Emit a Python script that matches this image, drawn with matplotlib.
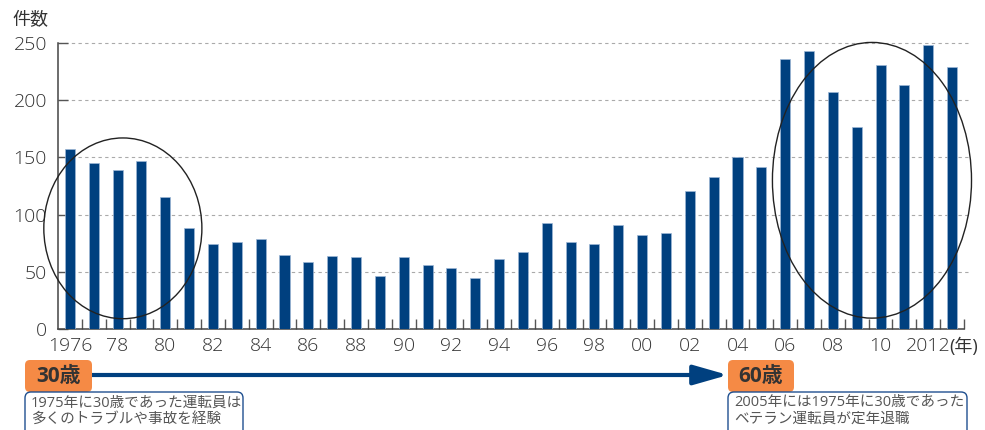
import numpy as np
from matplotlib import pyplot as plt
from matplotlib.patches import Ellipse, FancyBboxPatch, FancyArrowPatch

plt.rcParams['font.family'] = ['Open Sans', 'Noto Sans CJK JP', 'DejaVu Sans']

years = list(range(1976, 2014))
counts = [157, 145, 139, 147, 115, 88, 74, 76, 79, 65,
          59, 64, 63, 46, 63, 56, 53, 45, 61, 67,
          93, 76, 74, 91, 82, 84, 121, 133, 150, 142,
          236, 243, 207, 177, 231, 213, 248, 229]
label_years = list(range(1976, 2013, 2))
label_text = ['1976', '78', '80', '82', '84', '86', '88', '90', '92', '94',
              '96', '98', '00', '02', '04', '06', '08', '10', '2012']
y_ticks = [0, 50, 100, 150, 200, 250]

bar_color = '#00407f'
text_color = '#333333'
orange = '#f58a45'

W, H = 985, 430
fig = plt.figure(figsize=(W / 100, H / 100), dpi=100, facecolor='white')
ax = fig.add_axes([58 / W, 1 - 329 / H, (964 - 58) / W, (329 - 43) / H])

ax.bar(years, counts, width=0.42, color=bar_color, edgecolor='#9db6d6', linewidth=0.5, zorder=3)

ax.set_xlim(years[0] - 0.5, years[-1] + 0.5)
ax.set_ylim(0, 250)
ax.set_yticks(y_ticks)
ax.set_xticks(label_years)
ax.set_xticklabels(label_text, fontweight='light')
ax.set_yticklabels([str(v) for v in y_ticks], fontweight='light')
ax.set_xticks(np.arange(years[0] + 0.5, years[-1] + 1, 1), minor=True)

ax.tick_params(axis='x', which='major', length=0, pad=6, labelsize=14, labelcolor=text_color)
ax.tick_params(axis='x', which='minor', direction='in', length=7, width=1, color='#555555')
ax.tick_params(axis='y', direction='in', length=7, width=1, color='#555555', pad=8,
               labelsize=14, labelcolor=text_color)

for side in ['top', 'right']:
    ax.spines[side].set_visible(False)
for side in ['left', 'bottom']:
    ax.spines[side].set_color('#444444')
    ax.spines[side].set_linewidth(1.1)

for v in y_ticks[1:]:
    ax.axhline(v, xmin=0.0, xmax=1.007, color='#aaaaaa', linewidth=0.8,
               linestyle=(0, (3, 3)), zorder=1, clip_on=False)

# circled periods
ax.add_patch(Ellipse((1978.22, 88), 6.63, 158, fill=False, edgecolor='#222222',
                     linewidth=1.0, zorder=4, clip_on=False))
ax.add_patch(Ellipse((2009.64, 130), 8.35, 241, fill=False, edgecolor='#222222',
                     linewidth=1.0, zorder=4, clip_on=False))

# overlay in pixel units for annotations
ov = fig.add_axes([0, 0, 1, 1], facecolor='none')
ov.set_xlim(0, W)
ov.set_ylim(H, 0)
ov.axis('off')

ov.text(12, 20, '件数', fontsize=13, color=text_color, ha='left', va='center')
ov.text(949, 347, '(年)', fontsize=13, color=text_color, ha='left', va='center')

ov.add_patch(FancyArrowPatch((92, 375), (728, 375), arrowstyle='-|>,head_length=2.1,head_width=0.6',
                             mutation_scale=10, color=bar_color, linewidth=3, shrinkA=0, shrinkB=0))

for x0, x1, lab in [(25, 92, '30歳'), (728, 794, '60歳')]:
    ov.add_patch(FancyBboxPatch((x0 + 4, 364), x1 - x0 - 8, 24,
                                boxstyle='round,pad=4,rounding_size=5',
                                facecolor=orange, edgecolor='none', zorder=5))
    ov.text((x0 + x1) / 2, 376, lab, fontsize=15, fontweight='bold', color=text_color,
            ha='center', va='center', zorder=6)

notes = [(25, 243, '1975年に30歳であった運転員は\n多くのトラブルや事故を経験'),
         (728, 967, '2005年には1975年に30歳であった\nベテラン運転員が定年退職')]
for x0, x1, txt in notes:
    ov.add_patch(FancyBboxPatch((x0, 392), x1 - x0, 50,
                                boxstyle='round,pad=0,rounding_size=6',
                                facecolor='white', edgecolor='#1f4f8f', linewidth=1.0,
                                zorder=5, clip_on=False))
    ov.text(x0 + 6, 411, txt, fontsize=10.5, color='#555555', ha='left', va='center',
            linespacing=1.1, zorder=6)

fig.savefig('out.png', dpi=100)
